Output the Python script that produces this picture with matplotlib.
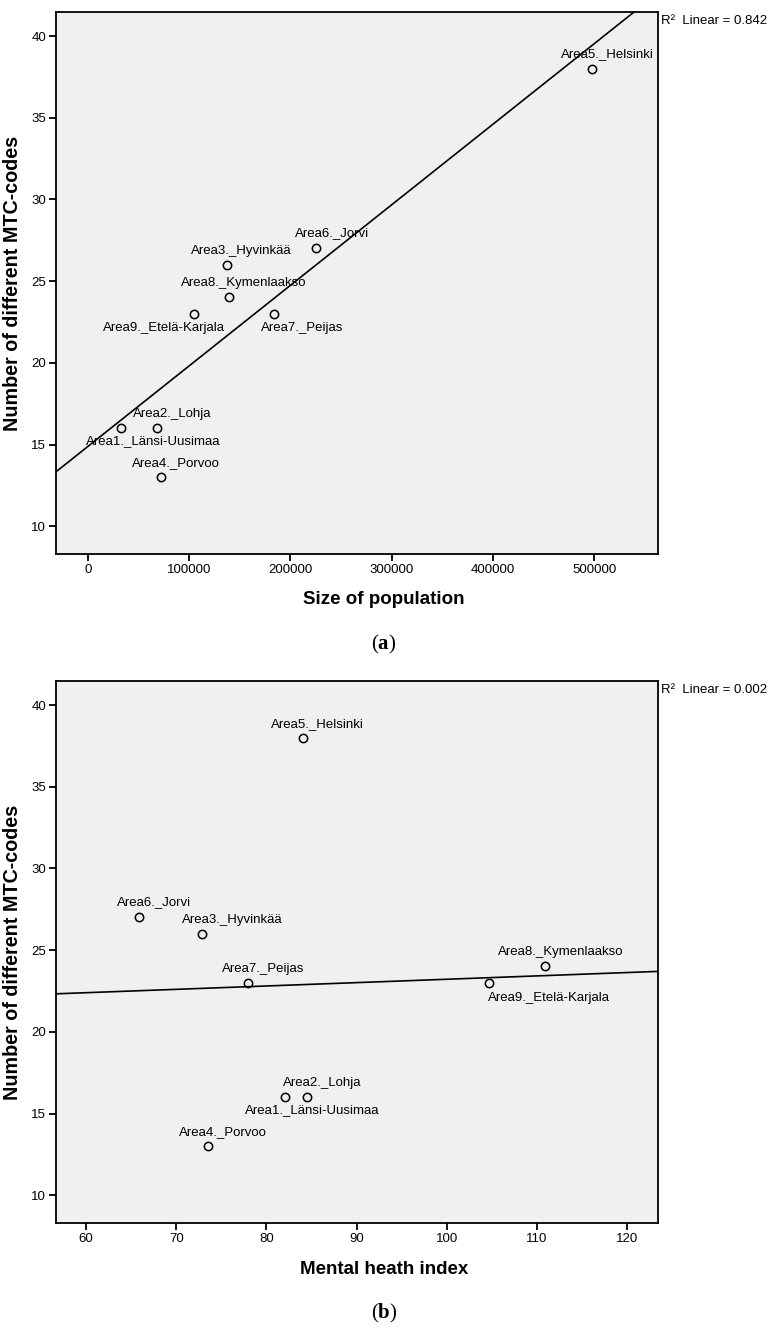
import numpy as np
import matplotlib
matplotlib.use("Agg")
import matplotlib.pyplot as plt

plt.rcParams['font.family'] = ['Liberation Sans', 'DejaVu Sans']
plt.rcParams['mathtext.fontset'] = 'custom'
plt.rcParams['mathtext.rm'] = 'Liberation Serif'
plt.rcParams['mathtext.bf'] = 'Liberation Serif:bold'

# data
areas = ["Area1._Länsi-Uusimaa", "Area2._Lohja", "Area3._Hyvinkää", "Area4._Porvoo",
         "Area5._Helsinki", "Area6._Jorvi", "Area7._Peijas", "Area8._Kymenlaakso",
         "Area9._Etelä-Karjala"]
mtc_codes = [16, 16, 26, 13, 38, 27, 23, 24, 23]
population = [33000, 68000, 137000, 72000, 498000, 225000, 184000, 139000, 105000]
mental_index = [82.1, 84.5, 72.9, 73.5, 84.0, 65.9, 78.0, 110.9, 104.7]
r2_text = ["0.842", "0.002"]

# label offsets in pixels (dx, dy) from each point
offs_a = [(32, -13), (15, 14), (15, 14), (15, 14), (15, 15), (16, 15), (28, -14), (15, 14), (-30, -14)]
offs_b = [(27, -13), (15, 14), (30, 14), (15, 14), (15, 14), (15, 15), (15, 14), (15, 14), (60, -15)]

W, H = 771, 1331
fig = plt.figure(figsize=(W / 100, H / 100), dpi=100)


def panel(top_px, x, xlim, xticks, xlabel, offs, tag, r2):
    bottom_px = top_px + 542
    ax = fig.add_axes([56 / W, 1 - bottom_px / H, 602 / W, 542 / H])
    ax.set_facecolor('#f0f0f0')
    for s in ax.spines.values():
        s.set_linewidth(1.3)
    ax.plot(x, mtc_codes, 'o', ms=6, mfc='none', mec='black', mew=1.1, zorder=3)
    for name, xi, yi, (dx, dy) in zip(areas, x, mtc_codes, offs):
        ax.annotate(name, (xi, yi), xytext=(dx, dy), textcoords='offset pixels',
                    ha='center', va='center', fontsize=9.5)
    # linear fit
    k, b = np.polyfit(np.array(x, float), np.array(mtc_codes, float), 1)
    xx = np.array(xlim)
    ax.plot(xx, k * xx + b, color='black', lw=1.2, zorder=2)
    ax.set_xlim(xlim)
    ax.set_ylim(8.3, 41.47)
    ax.set_xticks(xticks)
    ax.set_yticks([10, 15, 20, 25, 30, 35, 40])
    ax.tick_params(direction='out', length=5, width=1.3, labelsize=9.5, pad=2)
    ax.text(1.005, 0.995, "R²  Linear = " + r2, transform=ax.transAxes,
            ha='left', va='top', fontsize=9.5)
    fig.text(13 / W, 1 - (top_px + 271) / H, "Number of different MTC-codes",
             rotation=90, ha='center', va='center', fontsize=14.2, fontweight='bold')
    fig.text(384 / W, 1 - (bottom_px + 46) / H, xlabel, ha='center', va='center',
             fontsize=13.5, fontweight='bold')
    fig.text(384 / W, 1 - (bottom_px + 90) / H, r'$\mathrm{(}\mathbf{%s}\mathrm{)}$' % tag,
             ha='center', va='center', fontsize=15)
    return ax


panel(12, population, (-31600, 563000), [0, 100000, 200000, 300000, 400000, 500000],
      "Size of population", offs_a, 'a', r2_text[0])
panel(681, mental_index, (56.67, 123.4), [60, 70, 80, 90, 100, 110, 120],
      "Mental heath index", offs_b, 'b', r2_text[1])

fig.savefig("out.png", dpi=100)
